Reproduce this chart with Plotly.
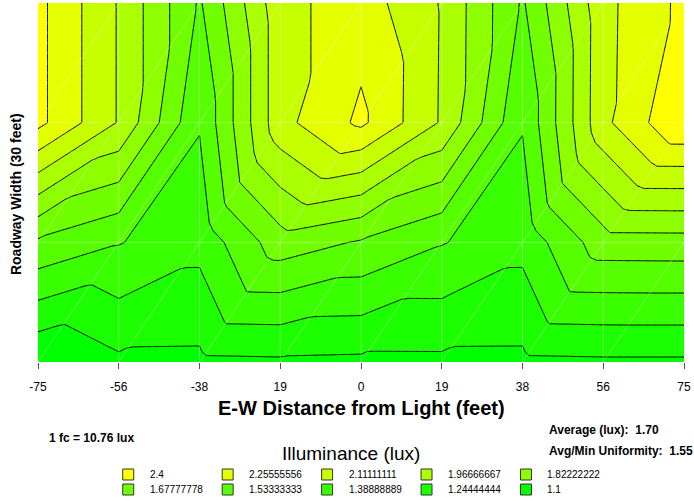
import numpy as np
import plotly.graph_objects as go

# ---------------- data ----------------
# E-W stations (feet) and their printed tick labels
x_ft = [-75.0, -56.25, -37.5, -18.75, 0.0, 18.75, 37.5, 56.25, 75.0]
tick_labels = ["-75", "-56", "-38", "19", "0", "19", "38", "56", "75"]
# rows across the 30 ft roadway (bottom -> top)
y_ft = [0.0, 10.0, 20.0, 30.0]

# illuminance (lux) at each node, one list per row
lux_y0 = [1.106, 1.217, 1.215, 1.222, 1.215, 1.216, 1.215, 1.222, 1.222]
lux_y10 = [1.655, 1.541, 1.435, 1.759, 1.663, 1.542, 1.435, 1.759, 1.762]
lux_y20 = [2.44, 2.10, 1.545, 2.21, 2.43, 2.095, 1.545, 2.22, 2.54]
lux_y30 = [2.44, 2.10, 1.66, 2.21, 2.33, 2.10, 1.66, 2.215, 2.437]

# contour levels / legend
level_min = 1.1
level_max = 2.4
n_levels = 10
level_labels = ["2.4", "2.25555556", "2.11111111", "1.96666667", "1.82222222",
                "1.67777778", "1.53333333", "1.38888889", "1.24444444", "1.1"]
level_colors = ["#ffff00", "#e3ff00", "#c6ff00", "#aaff00", "#8eff00",
                "#71ff00", "#55ff00", "#39ff00", "#1cff00", "#00ff00"]

average_text = "Average (lux):\u00a0\u00a01.70"
uniform_text = "Avg/Min Uniformity:\u00a0\u00a01.55"
conv_text = "1 fc = 10.76 lux"

# ---------------- rendering ----------------
W, H = 694, 501
PL, PR, PT, PB = 38, 686, 3, 362
FONT = "Liberation Sans, Arial, sans-serif"


def pxx(v):
    return (v - PL) / (PR - PL)


def pxy(v):
    return (PB - v) / (PB - PT)


xs = np.array(x_ft)
ys = np.array(y_ft)
Z = np.array([lux_y0, lux_y10, lux_y20, lux_y30])

# The original plot interpolates linearly on a triangulated mesh (each cell split
# along its lower-left -> upper-right diagonal).  Sample that surface densely so
# plotly's contouring follows the same piecewise-linear shapes.
sub = 12


def dense(a):
    parts = [np.linspace(a[i], a[i + 1], sub, endpoint=False) for i in range(len(a) - 1)]
    return np.concatenate(parts + [np.array([a[-1]])])


xf = dense(xs)
yf = dense(ys)


def tri_value(x, y):
    i = min(int(np.searchsorted(xs, x, side="right") - 1), len(xs) - 2)
    j = min(int(np.searchsorted(ys, y, side="right") - 1), len(ys) - 2)
    u = (x - xs[i]) / (xs[i + 1] - xs[i])
    v = (y - ys[j]) / (ys[j + 1] - ys[j])
    bl, br, tl, tr = Z[j, i], Z[j, i + 1], Z[j + 1, i], Z[j + 1, i + 1]
    if v <= u + 1e-12:
        return bl + u * (br - bl) + v * (tr - br)
    return bl + v * (tl - bl) + u * (tr - tl)


Zf = np.array([[tri_value(x, y) for x in xf] for y in yf])

step = (level_max - level_min) / (n_levels - 1)
asc_colors = level_colors[::-1]  # 1.1 ... 2.4
colorscale = [[0.0, asc_colors[0]]]
for k in range(n_levels):
    colorscale.append([(k + 1) / n_levels, asc_colors[k]])

fig = go.Figure()
fig.add_trace(go.Contour(
    x=xf, y=yf, z=Zf,
    autocontour=False,
    contours=dict(start=level_min, end=level_max, size=step,
                  coloring="fill", showlines=True),
    line=dict(color="black", width=1, smoothing=0),
    colorscale=colorscale, showscale=False, hoverinfo="skip",
))

# faint mesh lines
mx, my = [], []
for xv in x_ft[1:-1]:
    mx += [xv, xv, None]
    my += [y_ft[0], y_ft[-1], None]
for yv in y_ft[1:-1]:
    mx += [x_ft[0], x_ft[-1], None]
    my += [yv, yv, None]
for i in range(len(x_ft) - 1):
    for j in range(len(y_ft) - 1):
        mx += [x_ft[i], x_ft[i + 1], None]
        my += [y_ft[j], y_ft[j + 1], None]
fig.add_trace(go.Scatter(x=mx, y=my, mode="lines",
                         line=dict(color="rgba(255,255,255,0.3)", width=1),
                         hoverinfo="skip", showlegend=False))

annotations = []
shapes = []


def add_text(text, x, y, size, bold=False, xanchor="center", angle=0):
    annotations.append(dict(
        text=("<b>%s</b>" % text) if bold else text,
        x=pxx(x), y=pxy(y), xref="paper", yref="paper",
        xanchor=xanchor, yanchor="middle", showarrow=False, textangle=angle,
        font=dict(family=FONT, size=size, color="black")))


add_text("E-W Distance from Light (feet)", 363, 408, 20, bold=True)
add_text("Roadway Width (30 feet)", 16, 194, 14, bold=True, angle=-90)
add_text(conv_text, 47, 438, 12, bold=True, xanchor="left")
add_text(average_text, 549, 430, 12, bold=True, xanchor="left")
add_text(uniform_text, 549, 451, 12, bold=True, xanchor="left")
add_text("Illuminance (lux)", 352, 453, 19)

# legend
for k, (lab, col) in enumerate(zip(level_labels, level_colors)):
    r, c = divmod(k, 5)
    x0 = 123 + 99.75 * c
    y0 = 469 + 15 * r
    shapes.append(dict(type="rect", xref="paper", yref="paper",
                       x0=pxx(x0), x1=pxx(x0 + 11), y0=pxy(y0), y1=pxy(y0 + 11),
                       fillcolor=col, line=dict(color="#333333", width=1)))
    add_text(lab, x0 + 25, y0 + 5.5, 10, xanchor="left")

fig.update_layout(
    width=W, height=H,
    margin=dict(l=PL, r=W - PR, t=PT, b=H - PB, pad=0),
    paper_bgcolor="white", plot_bgcolor="white",
    showlegend=False,
    annotations=annotations, shapes=shapes,
    xaxis=dict(range=[x_ft[0], x_ft[-1]], tickvals=x_ft, ticktext=tick_labels,
               ticks="outside", ticklen=6, tickwidth=1, tickcolor="#555555",
               showgrid=False, zeroline=False, showline=False,
               ticklabelstandoff=8,
               tickfont=dict(family=FONT, size=12, color="black")),
    yaxis=dict(range=[y_ft[0], y_ft[-1]], showticklabels=False, ticks="",
               showgrid=False, zeroline=False, showline=False),
)

fig.write_html("out.html",
               config={"displayModeBar": False},
               post_script="document.body.style.margin='0';"
                           "document.body.style.overflow='hidden';")
